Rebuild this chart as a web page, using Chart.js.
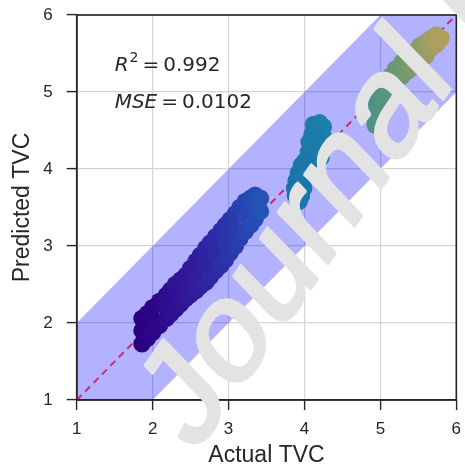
<!DOCTYPE html>
<html>
<head>
<meta charset="utf-8">
<script src="https://cdn.jsdelivr.net/npm/chart.js@4.4.1/dist/chart.umd.min.js"></script>
<style>
  html, body { margin: 0; padding: 0; background: #ffffff; }
  #wrap { width: 465px; height: 471px; }
</style>
</head>
<body>
<div id="wrap"><canvas id="c" width="465" height="471"></canvas></div>
<script>
// ---------------- data ----------------
const xTickLabels = [1, 2, 3, 4, 5, 6];
const yTickLabels = [1, 2, 3, 4, 5, 6];

// low cluster
const actualLow = [1.86,1.86,1.86,1.93,1.93,2.00,2.00,2.00,2.09,2.09,2.18,2.18,2.18,2.24,2.24,2.30,2.30,2.30,2.37,2.37,2.44,2.44,2.44,2.50,2.50,2.57,2.57,2.57,2.63,2.63,2.70,2.70,2.70,2.76,2.76,2.83,2.83,2.83,2.90,2.90,2.96,2.96,2.96,3.02,3.02,3.09,3.09,3.09,3.15,3.15,3.22,3.22,3.22,3.29,3.29,3.35,3.35,3.35,3.42,3.42];
const predictedLow = [1.73,1.90,2.06,1.80,2.12,1.88,2.04,2.20,1.97,2.28,2.06,2.21,2.36,2.12,2.43,2.18,2.34,2.50,2.25,2.56,2.32,2.47,2.62,2.37,2.71,2.42,2.61,2.80,2.48,2.88,2.53,2.75,2.97,2.60,3.04,2.68,2.90,3.12,2.75,3.20,2.82,3.05,3.27,2.91,3.34,3.00,3.21,3.42,3.10,3.50,3.19,3.39,3.58,3.27,3.62,3.35,3.50,3.66,3.45,3.62];

// middle cluster
const actualMid = [4.12,4.20,4.25,4.25,4.24,4.22,4.15,4.16,4.10,4.06,4.12,4.15,4.05,4.10,4.00,3.96,4.04,3.99,3.92,3.89,3.97,3.87,3.94,3.88,3.95,3.93,3.99,4.02,3.96];
const predictedMid = [4.58,4.60,4.55,4.42,4.28,4.15,4.50,4.38,4.45,4.35,4.28,4.20,4.22,4.12,4.10,4.05,4.02,3.95,3.95,3.85,3.86,3.75,3.75,3.66,3.64,3.58,3.75,3.92,3.65];

// high cluster
const actualHigh = [4.93,4.97,4.92,5.00,4.93,5.01,4.93,5.02,4.92,5.03,4.99,5.06,5.12,5.12,5.20,5.20,5.28,5.28,5.36,5.36,5.44,5.44,5.52,5.52,5.60,5.60,5.67,5.67,5.74,5.74,5.80];
const predictedHigh = [4.57,4.60,4.68,4.70,4.79,4.80,4.90,4.90,4.99,4.98,5.08,5.08,5.06,5.20,5.14,5.30,5.20,5.38,5.27,5.45,5.32,5.52,5.38,5.60,5.47,5.65,5.57,5.70,5.62,5.74,5.70];

const identityRange = [1, 6];
const bandHalfWidth = 1;
const r2Value = '0.992';
const mseValue = '0.0102';
const watermarkText = 'Journal Pre-proof';

// ---------------- style helpers ----------------
const colorStops = [
  [1.85, [42, 0, 128]],
  [2.5,  [50, 24, 155]],
  [3.0,  [44, 52, 170]],
  [3.4,  [36, 82, 182]],
  [3.9,  [26, 116, 170]],
  [4.3,  [30, 128, 170]],
  [4.9,  [76, 146, 134]],
  [5.3,  [112, 152, 112]],
  [5.8,  [176, 160, 94]]
];
function cmap(v) {
  if (v <= colorStops[0][0]) return 'rgb(' + colorStops[0][1].join(',') + ')';
  for (let i = 1; i < colorStops.length; i++) {
    if (v <= colorStops[i][0]) {
      const [v0, c0] = colorStops[i - 1], [v1, c1] = colorStops[i];
      const t = (v - v0) / (v1 - v0);
      const c = c0.map((a, k) => Math.round(a + (c1[k] - a) * t));
      return 'rgb(' + c.join(',') + ')';
    }
  }
  return 'rgb(' + colorStops[colorStops.length - 1][1].join(',') + ')';
}

const actualAll = actualLow.concat(actualMid, actualHigh);
const predictedAll = predictedLow.concat(predictedMid, predictedHigh);
const pts = actualAll.map((x, i) => ({ x: x, y: predictedAll[i] }));
const ptColors = actualAll.map(v => cmap(v));

const upper = identityRange.map(x => ({ x: x, y: x + bandHalfWidth }));
const lower = identityRange.map(x => ({ x: x, y: x - bandHalfWidth }));
const ident = identityRange.map(x => ({ x: x, y: x }));

const ink = '#262626';

const framePlugin = {
  id: 'frame',
  afterDatasetsDraw(chart) {
    const a = chart.chartArea, ctx = chart.ctx;
    ctx.save();
    ctx.strokeStyle = ink;
    ctx.lineWidth = 1.6;
    ctx.strokeRect(a.left, a.top, a.right - a.left, a.bottom - a.top);
    const xs = chart.scales.x, ys = chart.scales.y;
    const tx = xs.getPixelForValue(1.5);
    const ty1 = ys.getPixelForValue(5.27);
    const ty2 = ys.getPixelForValue(4.79);
    ctx.fillStyle = ink;
    ctx.textBaseline = 'alphabetic';
    ctx.textAlign = 'left';
    let x = tx;
    ctx.font = 'italic 20px "DejaVu Sans"';
    ctx.fillText('R', x, ty1); x += ctx.measureText('R').width + 1;
    ctx.font = '14px "DejaVu Sans"';
    ctx.fillText('2', x, ty1 - 9); x += ctx.measureText('2').width + 4;
    ctx.font = '20px "DejaVu Sans"';
    ctx.fillText('=', x, ty1); x += ctx.measureText('=').width + 4;
    ctx.fillText(r2Value, x, ty1);
    x = tx;
    ctx.font = 'italic 20px "DejaVu Sans"';
    ctx.fillText('MSE', x, ty2); x += ctx.measureText('MSE').width + 4;
    ctx.font = '20px "DejaVu Sans"';
    ctx.fillText('=', x, ty2); x += ctx.measureText('=').width + 4;
    ctx.fillText(mseValue, x, ty2);
    ctx.restore();
  }
};

const watermarkPlugin = {
  id: 'watermark',
  afterDraw(chart) {
    const ctx = chart.ctx;
    ctx.save();
    // rotated text, slightly stretched vertically
    const s = 1.23;
    ctx.setTransform(0.648 * s, -0.926 * s, 0.762 * s, 0.788 * s, 194, 455);
    ctx.font = '100px "Liberation Sans"';
    ctx.fillStyle = '#e3e3e3';
    ctx.strokeStyle = '#e3e3e3';
    ctx.lineWidth = 2.5;
    ctx.lineJoin = 'round';
    ctx.textBaseline = 'alphabetic';
    ctx.fillText(watermarkText, 0, 0);
    ctx.strokeText(watermarkText, 0, 0);
    ctx.restore();
  }
};

new Chart(document.getElementById('c'), {
  type: 'scatter',
  data: {
    datasets: [
      {
        type: 'scatter',
        data: pts,
        backgroundColor: ptColors,
        borderWidth: 0,
        pointRadius: 8.7,
        pointHoverRadius: 8.7,
        order: 0
      },
      {
        type: 'line',
        data: ident,
        borderColor: 'rgb(200,42,115)',
        borderWidth: 2,
        borderDash: [7, 5],
        pointRadius: 0,
        fill: false,
        order: 1
      },
      {
        type: 'line',
        data: upper,
        borderWidth: 0,
        pointRadius: 0,
        backgroundColor: 'rgba(0,0,255,0.3)',
        fill: '+1',
        clip: 0,
        order: 2
      },
      {
        type: 'line',
        data: lower,
        borderWidth: 0,
        pointRadius: 0,
        fill: false,
        clip: 0,
        order: 3
      }
    ]
  },
  options: {
    responsive: false,
    animation: false,
    devicePixelRatio: 1,
    events: [],
    layout: { padding: { top: 15, right: 5.5, left: 0, bottom: 0 } },
    plugins: { legend: { display: false }, tooltip: { enabled: false } },
    scales: {
      x: {
        type: 'linear',
        min: 1, max: 6,
        afterBuildTicks(s) { s.ticks = xTickLabels.map(v => ({ value: v })); },
        afterFit(s) { s.height = 71; s.paddingLeft = 0; s.paddingRight = 0; },
        ticks: { color: ink, font: { family: '"Liberation Sans"', size: 17 }, padding: 9 },
        grid: { color: '#d4d4d4', lineWidth: 1.2, tickColor: ink, tickLength: 10, tickWidth: 1.4 },
        border: { display: true, color: ink, width: 1.6 },
        title: { display: true, text: 'Actual TVC', color: ink, font: { family: '"Liberation Sans"', size: 23 }, padding: { top: 0, bottom: 2 } }
      },
      y: {
        type: 'linear',
        min: 1, max: 6,
        afterBuildTicks(s) { s.ticks = yTickLabels.map(v => ({ value: v })); },
        afterFit(s) { s.width = 76.7; s.paddingTop = 0; s.paddingBottom = 0; },
        ticks: { color: ink, font: { family: '"Liberation Sans"', size: 17 }, padding: 14 },
        grid: { color: '#d4d4d4', lineWidth: 1.2, tickColor: ink, tickLength: 10, tickWidth: 1.4 },
        border: { display: true, color: ink, width: 1.6 },
        title: { display: true, text: 'Predicted TVC', color: ink, font: { family: '"Liberation Sans"', size: 23 }, padding: { top: 9, bottom: 0 } }
      }
    }
  },
  plugins: [framePlugin, watermarkPlugin]
});
</script>
</body>
</html>
